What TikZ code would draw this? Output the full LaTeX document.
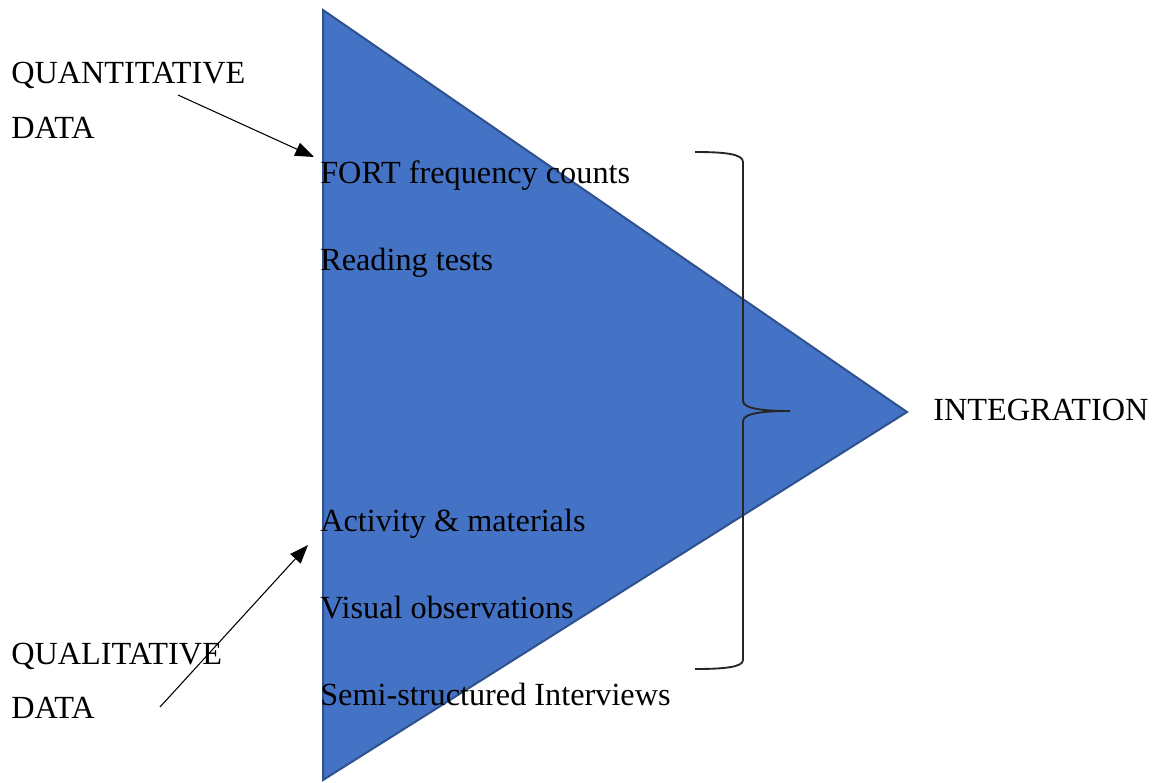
\documentclass[tikz,border=0pt]{standalone}
\usepackage{fontspec}
\setmainfont{Liberation Serif}
\usetikzlibrary{arrows.meta}
\definecolor{funnelfill}{HTML}{4472C4}
\definecolor{funneledge}{HTML}{2F528F}

\begin{document}
\begin{tikzpicture}[x=0.75pt,y=-0.75pt]
\tikzstyle{txt}=[anchor=base west,inner sep=0pt,font=\fontsize{24.2}{28}\selectfont]
\tikzstyle{feed}=[-{Triangle[length=14pt,width=10.5pt]},line width=0.8pt]
\useasboundingbox (0,0) rectangle (1152,782);

% the funnel
\draw[fill=funnelfill,draw=funneledge,line width=1.5pt] (323,10) -- (907,412) -- (323,780) -- cycle;

% data types on the left
\node[txt] (quant)  at (11,83)  {QUANTITATIVE};
\node[txt] (quantd) at (11,138) {DATA};
\node[txt] (qual)   at (11,664) {QUALITATIVE};
\node[txt] (quald)  at (11,718) {DATA};

% methods inside the funnel
\node[txt] (fort)   at (320,183) {FORT frequency counts};
\node[txt] (read)   at (320,270) {Reading tests};
\node[txt] (act)    at (320,531) {Activity \& materials};
\node[txt] (vis)    at (320,618) {Visual observations};
\node[txt] (semi)   at (320,705) {Semi-structured Interviews};

\node[txt] (integ)  at (933,420) {INTEGRATION};

% arrows into the funnel
\coordinate (qnfrom) at (178,95);
\coordinate (qnto)   at (314,157);
\coordinate (qlfrom) at (160,707);
\coordinate (qlto)   at (308,545);
\draw[feed] (qnfrom) -- (qnto);
\draw[feed] (qlfrom) -- (qlto);

% brace
\coordinate (btop) at (695,152);
\coordinate (btip) at (790,411);
\coordinate (bbot) at (695,669);
\draw[line width=1.4pt,black!85] (btop) .. controls (725,152) and (743,154) .. (743,162)
  -- (743,401) .. controls (743,409) and (765,411) .. (btip)
  .. controls (765,411) and (743,413) .. (743,421)
  -- (743,660) .. controls (743,667) and (725,669) .. (bbot);
\end{tikzpicture}
\end{document}
